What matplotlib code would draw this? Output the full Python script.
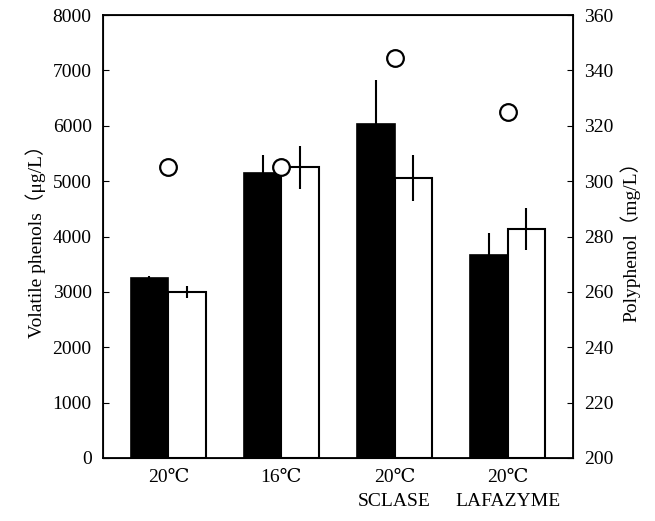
import numpy as np
import matplotlib.pyplot as plt

plt.rcParams['font.family'] = ['Liberation Serif', 'DejaVu Serif', 'Noto Sans CJK JP']
plt.rcParams['font.size'] = 14

groups = ['20℃', '16℃', '20℃\nSCLASE', '20℃\nLAFAZYME']
phenol_black = [3250, 5150, 6040, 3660]
phenol_black_err = [30, 320, 780, 400]
phenol_white = [3000, 5250, 5060, 4130]
phenol_white_err = [110, 390, 410, 380]
polyphenol = [305, 305, 344.5, 325]

x = np.arange(len(groups))
w = 0.335

fig = plt.figure(figsize=(6.55, 5.21), dpi=100)
ax = fig.add_axes([0.157, 0.121, 0.718, 0.850])

ax.bar(x - w / 2, phenol_black, w, color='black', edgecolor='black', linewidth=1.2)
ax.errorbar(x - w / 2, phenol_black, yerr=phenol_black_err, fmt='none', ecolor='black', elinewidth=1.5, capsize=0)
ax.bar(x + w / 2, phenol_white, w, color='white', edgecolor='black', linewidth=1.5)
ax.errorbar(x + w / 2, phenol_white, yerr=phenol_white_err, fmt='none', ecolor='black', elinewidth=1.5, capsize=0)

ax.set_xlim(-0.58, 3.58)
ax.set_ylim(0, 8000)
ax.set_yticks(np.arange(0, 8001, 1000))
ax.set_xticks(x)
ax.set_xticklabels(groups, linespacing=1.5, va='top')
ax.tick_params(axis='x', length=0, pad=8)
ax.tick_params(axis='y', direction='in', length=4, pad=8)
ax.set_ylabel('Volatile phenols（μg/L）', labelpad=5)
for s in ax.spines.values():
    s.set_linewidth(1.3)

ax2 = ax.twinx()
ax2.plot(x, polyphenol, 'o', markersize=12, markerfacecolor='white', markeredgecolor='black', markeredgewidth=1.6)
ax2.set_ylim(200, 360)
ax2.set_yticks(np.arange(200, 361, 20))
ax2.tick_params(axis='y', direction='in', length=4, pad=8)
ax2.set_ylabel('Polyphenol（mg/L）', labelpad=4)

plt.savefig('out.png', dpi=100)
